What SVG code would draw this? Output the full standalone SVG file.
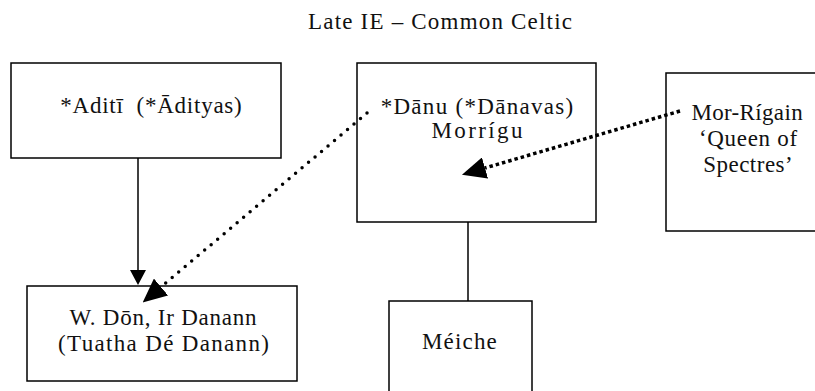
<svg xmlns="http://www.w3.org/2000/svg" width="815" height="391" viewBox="0 0 815 391">
<style>
.box{fill:#fff;stroke:#000;stroke-width:1.5}
.t{font-family:'Liberation Serif','Times New Roman',serif;font-size:23px;fill:#111;text-anchor:middle}
.solid{stroke:#000;stroke-width:1.5;fill:none}
.rdot{stroke:#000;stroke-width:3.5;stroke-linecap:round;stroke-dasharray:0 8.5;fill:none}
.sdot{stroke:#000;stroke-width:3.5;stroke-dasharray:3.5 3;fill:none}
</style>
<defs>
<marker id="aS" markerUnits="userSpaceOnUse" viewBox="0 0 15 16" refX="0" refY="8" markerWidth="15" markerHeight="16" orient="auto"><path d="M0,0 L15,8 L0,16 z" fill="#000"/></marker>
<marker id="aL" markerUnits="userSpaceOnUse" viewBox="0 0 24 22" refX="0" refY="11" markerWidth="24" markerHeight="22" orient="auto"><path d="M0,0 L24,11 L0,22 z" fill="#000"/></marker>
</defs>
<text class="t" x="440.6" y="29" letter-spacing="1.2">Late IE – Common Celtic</text>
<g id="aditi"><rect class="box" x="11" y="63" width="270" height="95"/><text class="t" x="151.4" y="113" letter-spacing="0.75" xml:space="preserve">*Aditī  (*Ādityas)</text></g>
<g id="danu"><rect class="box" x="357" y="63" width="239" height="159"/><text class="t" x="477.6" y="114" letter-spacing="1.3">*Dānu (*Dānavas)</text><text class="t" x="478.2" y="138" letter-spacing="2.4">Morrígu</text></g>
<g id="morrigain"><rect class="box" x="666" y="73" width="220" height="158"/><text class="t" x="747.2" y="120" letter-spacing="0.35">Mor-Rígain</text><text class="t" x="748.4" y="146" letter-spacing="0.7">‘Queen of</text><text class="t" x="748.2" y="172" letter-spacing="0.5">Spectres’</text></g>
<g id="don"><rect class="box" x="27" y="286" width="270" height="95"/><text class="t" x="163.4" y="325" letter-spacing="0.77">W. Dōn, Ir Danann</text><text class="t" x="164.2" y="351" letter-spacing="1.33">(Tuatha Dé Danann)</text></g>
<g id="meiche"><rect class="box" x="389" y="301" width="143" height="110"/><text class="t" x="460" y="349" letter-spacing="1.17">Méiche</text></g>
<g id="connectors">
<line class="solid" x1="138" y1="158" x2="138" y2="270" marker-end="url(#aS)"/>
<line class="solid" x1="468" y1="222" x2="468" y2="301"/>
<line class="rdot" x1="367" y1="113" x2="161" y2="287" marker-end="url(#aL)"/>
<line class="sdot" x1="680" y1="111" x2="485" y2="168" marker-end="url(#aL)"/>
</g>
</svg>
